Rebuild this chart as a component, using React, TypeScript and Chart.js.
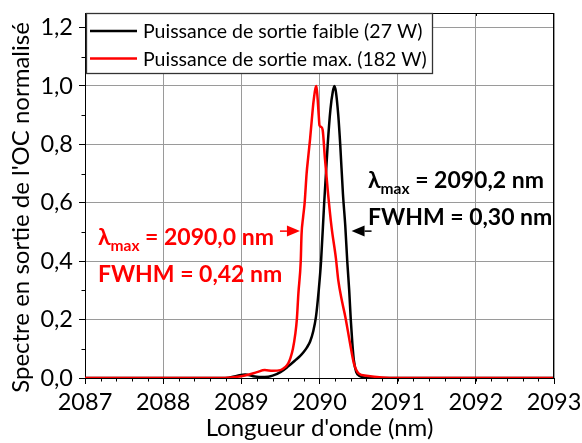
import React, { useEffect, useRef } from "react";
import { Chart, registerables } from "chart.js";

Chart.register(...registerables);

// ---- Data ----
const lowPowerLambda = [
  2087, 2088.8, 2088.95, 2089.05, 2089.15, 2089.3, 2089.4, 2089.5, 2089.6, 2089.7, 2089.75,
  2089.8, 2089.84, 2089.88, 2089.92, 2089.955, 2089.99, 2090.02, 2090.06, 2090.105, 2090.14,
  2090.17, 2090.19, 2090.21, 2090.24, 2090.265, 2090.3, 2090.33, 2090.355, 2090.38, 2090.4,
  2090.42, 2090.44, 2090.47, 2090.52, 2090.6, 2090.8, 2093,
];
const lowPowerSpectrum = [
  0, 0, 0.008, 0.012, 0.006, 0.003, 0.008, 0.02, 0.04, 0.063, 0.075,
  0.09, 0.105, 0.125, 0.16, 0.21, 0.3, 0.4, 0.6, 0.8, 0.92,
  0.98, 1.0, 0.98, 0.9, 0.8, 0.63, 0.52, 0.4, 0.3, 0.2,
  0.12, 0.06, 0.02, 0.006, 0.001, 0, 0,
];

const maxPowerLambda = [
  2087, 2088.7, 2088.9, 2089.0, 2089.1, 2089.2, 2089.3, 2089.4, 2089.5, 2089.56, 2089.6,
  2089.63, 2089.66, 2089.69, 2089.71, 2089.73, 2089.76, 2089.77, 2089.79, 2089.81, 2089.835,
  2089.857, 2089.88, 2089.9, 2089.925, 2089.96, 2089.975, 2089.99, 2090.0, 2090.02, 2090.04,
  2090.07, 2090.11, 2090.155, 2090.21, 2090.24, 2090.29, 2090.33, 2090.39, 2090.44, 2090.5,
  2090.6, 2090.8, 2091, 2093,
];
const maxPowerSpectrum = [
  0, 0, 0.003, 0.006, 0.012, 0.02, 0.027, 0.025, 0.027, 0.037, 0.05,
  0.07, 0.1, 0.15, 0.2, 0.29, 0.4, 0.49, 0.55, 0.6, 0.7,
  0.76, 0.82, 0.88, 0.95, 1.0, 0.96, 0.9, 0.865, 0.86, 0.85,
  0.75, 0.63, 0.515, 0.41, 0.335, 0.26, 0.21, 0.12, 0.05, 0.016,
  0.008, 0.002, 0, 0,
];

const seriesLabels = [
  "Puissance de sortie faible (27 W)",
  "Puissance de sortie max. (182 W)",
];
const seriesColors = ["#000000", "#ff0000"];

const xTitle = "Longueur d'onde (nm)";
const yTitle = "Spectre en sortie de l'OC normalisé";

// annotation texts & anchor points (data units)
const redAnnot = { lambda: "2090,0 nm", fwhm: "FWHM = 0,42 nm", x: 2087.165, y1: 0.455, y2: 0.33, arrowTip: [2089.75, 0.503] };
const blackAnnot = { lambda: "2090,2 nm", fwhm: "FWHM = 0,30 nm", x: 2090.62, y1: 0.65, y2: 0.525, arrowTip: [2090.41, 0.503] };

const FONT = "Lato, 'Open Sans', sans-serif";

const toPts = (xs: number[], ys: number[]) => xs.map((x, i) => ({ x, y: ys[i] }));

const fmt = (v: number) => v.toFixed(1).replace(".", ",");

export default function App() {
  const ref = useRef<HTMLCanvasElement | null>(null);

  useEffect(() => {
    const canvas = ref.current;
    if (!canvas) return;

    const decorPlugin = {
      id: "decor",
      afterDatasetsDraw(chart: any) {
        const { ctx, chartArea: a, scales } = chart;
        const xs = scales.x;
        const ys = scales.y;
        ctx.save();
        // frame top & right
        ctx.strokeStyle = "#000";
        ctx.lineWidth = 1;
        ctx.beginPath();
        ctx.moveTo(a.left, Math.round(a.top) + 0.5);
        ctx.lineTo(a.right, Math.round(a.top) + 0.5);
        ctx.moveTo(Math.round(a.right) - 0.5, a.top);
        ctx.lineTo(Math.round(a.right) - 0.5, a.bottom);
        ctx.stroke();
        // minor x ticks
        ctx.beginPath();
        for (let v = 2087; v <= 2093.001; v += 0.2) {
          const px = Math.round(xs.getPixelForValue(v)) + 0.5;
          ctx.moveTo(px, a.bottom);
          ctx.lineTo(px, a.bottom + 3.5);
        }
        // top ticks (inside)
        for (let v = 2088; v <= 2092; v += 1) {
          const px = Math.round(xs.getPixelForValue(v)) + 0.5;
          ctx.moveTo(px, a.top);
          ctx.lineTo(px, a.top + 3);
        }
        // minor y ticks
        for (let v = 0.1; v <= 1.25; v += 0.2) {
          const py = Math.round(ys.getPixelForValue(v)) + 0.5;
          ctx.moveTo(a.left - 3.5, py);
          ctx.lineTo(a.left, py);
        }
        ctx.stroke();

        // y-axis title
        ctx.save();
        ctx.translate(21.5, 207.5);
        ctx.rotate(-Math.PI / 2);
        ctx.fillStyle = "#000";
        ctx.font = `24px ${FONT}`;
        ctx.textAlign = "center";
        ctx.textBaseline = "middle";
        ctx.fillText(yTitle, 0, 0);
        ctx.restore();

        // legend
        const lx = a.left + 1, ly = a.top, lw = 346, lh = 60;
        ctx.fillStyle = "#fff";
        ctx.fillRect(lx, ly, lw, lh);
        ctx.strokeStyle = "#333";
        ctx.lineWidth = 1.3;
        ctx.strokeRect(lx + 0.5, ly + 0.5, lw, lh);
        const rows = [ly + 18, ly + 45.6];
        ctx.font = `19.5px ${FONT}`;
        ctx.textBaseline = "middle";
        ctx.textAlign = "left";
        seriesLabels.forEach((lab, i) => {
          ctx.strokeStyle = seriesColors[i];
          ctx.lineWidth = 2.5;
          ctx.beginPath();
          ctx.moveTo(lx + 4, rows[i]);
          ctx.lineTo(lx + 51, rows[i]);
          ctx.stroke();
          ctx.fillStyle = "#000";
          ctx.fillText(lab, lx + 57, rows[i] + 1);
        });

        // annotations
        const drawAnnot = (an: any, color: string, dir: number) => {
          const x0 = xs.getPixelForValue(an.x);
          const b1 = ys.getPixelForValue(an.y1);
          const b2 = ys.getPixelForValue(an.y2);
          ctx.fillStyle = color;
          ctx.textBaseline = "alphabetic";
          ctx.font = `bold 23px ${FONT}`;
          ctx.fillText("λ", x0, b1);
          let w = ctx.measureText("λ").width;
          ctx.font = `bold 15.5px ${FONT}`;
          ctx.fillText("max", x0 + w, b1 + 6);
          w += ctx.measureText("max").width;
          ctx.font = `bold 23px ${FONT}`;
          ctx.fillText(" = " + an.lambda, x0 + w, b1);
          ctx.fillText(an.fwhm, x0, b2);
          // arrow
          const tx = xs.getPixelForValue(an.arrowTip[0]);
          const ty = ys.getPixelForValue(an.arrowTip[1]);
          const tail = tx - dir * 20;
          const head = tx - dir * 13;
          ctx.strokeStyle = color;
          ctx.lineWidth = 1.5;
          ctx.beginPath();
          ctx.moveTo(tail, ty);
          ctx.lineTo(head, ty);
          ctx.stroke();
          ctx.beginPath();
          ctx.moveTo(tx, ty);
          ctx.lineTo(head, ty - 5.5);
          ctx.lineTo(head, ty + 5.5);
          ctx.closePath();
          ctx.fill();
        };
        drawAnnot(redAnnot, seriesColors[1], 1);
        drawAnnot(blackAnnot, seriesColors[0], -1);
        ctx.restore();
      },
    };

    const chart = new Chart(canvas, {
      type: "line",
      data: {
        datasets: [
          {
            label: seriesLabels[0],
            data: toPts(lowPowerLambda, lowPowerSpectrum),
            borderColor: seriesColors[0],
            borderWidth: 2.5,
            pointRadius: 0,
            cubicInterpolationMode: "monotone",
            order: 2,
          },
          {
            label: seriesLabels[1],
            data: toPts(maxPowerLambda, maxPowerSpectrum),
            borderColor: seriesColors[1],
            borderWidth: 2.5,
            pointRadius: 0,
            cubicInterpolationMode: "monotone",
            order: 1,
          },
        ],
      },
      options: {
        animation: false,
        responsive: false,
        maintainAspectRatio: false,
        layout: { padding: { left: 0, top: 13, right: 28, bottom: 0 } },
        plugins: { legend: { display: false }, tooltip: { enabled: false } },
        scales: {
          x: {
            type: "linear",
            min: 2087,
            max: 2093,
            afterFit: (s: any) => { s.height = 65; s.paddingLeft = 0; s.paddingRight = 0; },
            ticks: {
              stepSize: 1,
              color: "#000",
              padding: 4,
              font: { family: FONT, size: 23.5 },
              callback: (v: any) => String(Math.round(Number(v))),
              maxRotation: 0,
            },
            grid: {
              color: "#9a9a9a",
              borderDash: [2, 3],
              lineWidth: 1,
              tickColor: "#000",
              tickLength: 6,
              tickBorderDash: [],
              tickWidth: 1,
            } as any,
            border: { display: true, color: "#000", width: 1 },
            title: {
              display: true,
              text: xTitle,
              color: "#000",
              font: { family: FONT, size: 24 },
              padding: { top: 0, bottom: 0 },
            },
          },
          y: {
            type: "linear",
            min: 0,
            max: 1.25,
            afterFit: (s: any) => { s.width = 85; s.paddingTop = 0; s.paddingBottom = 0; },
            ticks: {
              stepSize: 0.2,
              includeBounds: false,
              color: "#000",
              padding: 6,
              font: { family: FONT, size: 23.5 },
              callback: (v: any) => fmt(Number(v)),
            },
            grid: {
              color: "#9a9a9a",
              borderDash: [2, 3],
              lineWidth: 1,
              tickColor: "#000",
              tickLength: 6,
              tickBorderDash: [],
              tickWidth: 1,
            } as any,
            border: { display: true, color: "#000", width: 1 },
            title: { display: false },
          },
        },
      } as any,
      plugins: [decorPlugin],
    });

    return () => chart.destroy();
  }, []);

  return (
    <div style={{ position: "absolute", left: 0, top: 0, width: 582, height: 443, background: "#fff" }}>
      <canvas ref={ref} width={582} height={443} style={{ display: "block", width: 582, height: 443 }} />
    </div>
  );
}
